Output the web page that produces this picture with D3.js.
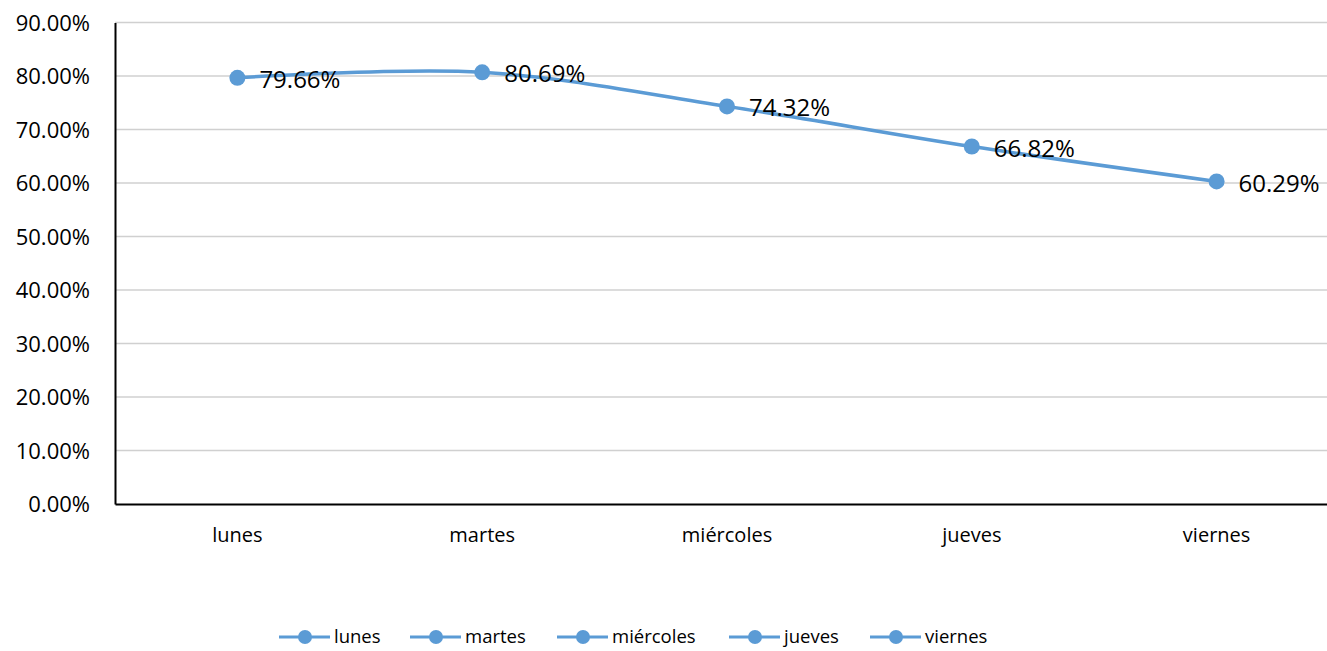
<!DOCTYPE html>
<html>
<head>
<meta charset="utf-8">
<script src="https://cdn.jsdelivr.net/npm/d3@7"></script>
<style>
  body { margin: 0; background: #fff; overflow: hidden; }
  text { font-family: "Open Sans", sans-serif; fill: #000; }
</style>
</head>
<body>
<div id="chart"></div>
<script>
// Datos
const dias = ["lunes", "martes", "miércoles", "jueves", "viernes"]
const valores = [0.7966, 0.8069, 0.7432, 0.6682, 0.6029]
const ticksY = [0, 0.1, 0.2, 0.3, 0.4, 0.5, 0.6, 0.7, 0.8, 0.9]

const width = 1327
const height = 651
const margin = {top: 22.5, right: -12, bottom: 147, left: 115}
const color = "#5B9BD5"

const svg = d3.select("#chart")
    .append("svg")
    .attr("width", width)
    .attr("height", height)
    .style("display", "block")

const x = d3.scaleBand()
    .domain(dias)
    .range([margin.left, width - margin.right])

const y = d3.scaleLinear()
    .domain([0, 0.9])
    .range([height - margin.bottom, margin.top])

const fmt = d => (d * 100).toFixed(2) + "%"

// Lineas de cuadricula
svg.append("g")
    .selectAll("line")
    .data(ticksY.slice(1))
    .enter().append("line")
    .attr("x1", margin.left)
    .attr("x2", width)
    .attr("y1", d => y(d))
    .attr("y2", d => y(d))
    .attr("stroke", "#d0d0d0")
    .attr("stroke-width", 1.5)

// Eje Y
const gy = svg.append("g")
    .attr("transform", `translate(${margin.left},0)`)
    .call(d3.axisLeft(y).tickValues(ticksY).tickFormat(fmt).tickSize(0).tickPadding(25))
gy.select(".domain").attr("stroke", "#000").attr("stroke-width", 2)
gy.selectAll("text").style("font-size", "22px").attr("dy", "0.35em")

// Eje X
const gx = svg.append("g")
    .attr("transform", `translate(0,${y(0)})`)
    .call(d3.axisBottom(x).tickSize(0).tickPadding(24))
gx.select(".domain").attr("stroke", "#000").attr("stroke-width", 2)
gx.selectAll("text").style("font-size", "20px")

const cx = d => x(d) + x.bandwidth() / 2

// Linea suavizada
const line = d3.line()
    .x((d, i) => cx(dias[i]))
    .y(d => y(d))
    .curve(d3.curveCatmullRom.alpha(0.5))

svg.append("path")
    .datum(valores)
    .attr("fill", "none")
    .attr("stroke", color)
    .attr("stroke-width", 3.5)
    .attr("d", line)

svg.append("g")
    .selectAll("circle")
    .data(valores)
    .enter().append("circle")
    .attr("cx", (d, i) => cx(dias[i]))
    .attr("cy", d => y(d))
    .attr("r", 8)
    .attr("fill", color)

// Etiquetas de datos
svg.append("g")
    .selectAll("text")
    .data(valores)
    .enter().append("text")
    .attr("x", (d, i) => cx(dias[i]) + 22)
    .attr("y", d => y(d))
    .attr("dy", "0.42em")
    .style("font-size", "24px")
    .text(fmt)

// Leyenda
const legX = [279, 410, 557, 729, 870]
const legY = 637
const leg = svg.append("g")
    .selectAll("g")
    .data(dias)
    .enter().append("g")
    .attr("transform", (d, i) => `translate(${legX[i]},${legY})`)

leg.append("line")
    .attr("x1", 0).attr("x2", 51)
    .attr("stroke", color)
    .attr("stroke-width", 3)
leg.append("circle")
    .attr("cx", 26).attr("r", 7)
    .attr("fill", color)
leg.append("text")
    .attr("x", 55)
    .attr("dy", "0.35em")
    .style("font-size", "18.5px")
    .text(d => d)
</script>
</body>
</html>
